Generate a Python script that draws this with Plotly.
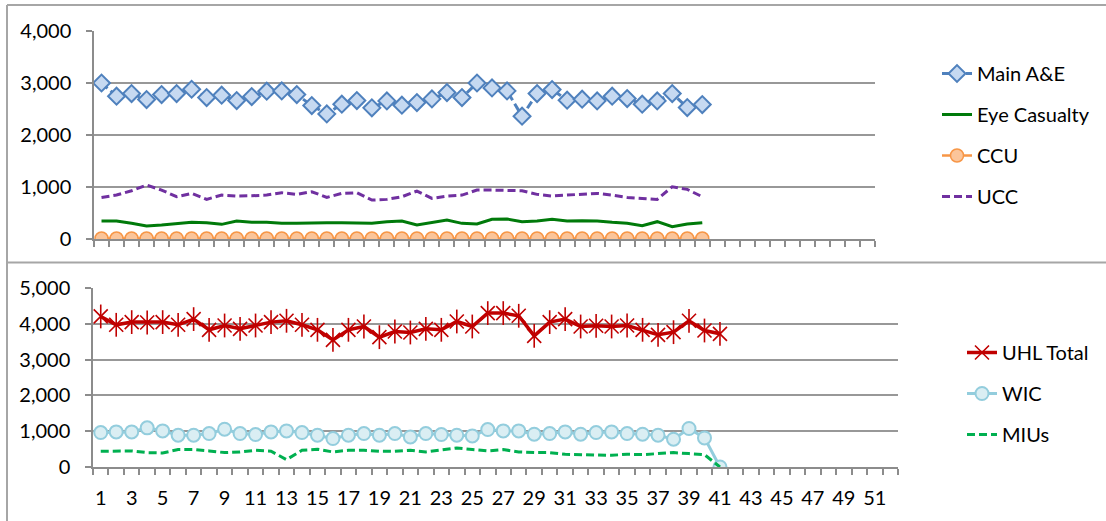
import plotly.graph_objects as go

weeks = [1, 2, 3, 4, 5, 6, 7, 8, 9, 10, 11, 12, 13, 14, 15, 16, 17, 18, 19, 20,
         21, 22, 23, 24, 25, 26, 27, 28, 29, 30, 31, 32, 33, 34, 35, 36, 37, 38, 39, 40, 41]

main_ae = [3000, 2746, 2797, 2682, 2778, 2797, 2880, 2720, 2765, 2662, 2739, 2842, 2848, 2778,
           2566, 2406, 2592, 2662, 2522, 2656, 2573, 2624, 2694, 2816, 2720, 3000, 2906, 2848,
           2362, 2797, 2874, 2669, 2688, 2656, 2746, 2701, 2592, 2656, 2797, 2528, 2586]
eye_casualty = [346, 346, 301, 250, 269, 301, 320, 314, 282, 346, 320, 320, 301, 301, 314, 314,
                314, 301, 301, 333, 346, 269, 314, 365, 301, 288, 378, 384, 333, 346, 378, 346,
                352, 346, 320, 301, 256, 333, 237, 288, 314]
ccu = [10, 10, 10, 10, 10, 10, 10, 10, 10, 10, 10, 10, 10, 10, 10, 10, 10, 10, 10, 10, 10,
       10, 10, 10, 10, 10, 10, 10, 10, 10, 10, 10, 10, 10, 10, 10, 10, 10, 10, 10, 10]
ucc = [800, 845, 928, 1037, 941, 813, 877, 762, 845, 826, 832, 845, 890, 858, 909, 800, 877,
       890, 749, 762, 813, 922, 781, 826, 845, 941, 941, 941, 928, 858, 826, 845, 864, 877,
       845, 800, 781, 762, 1005, 954, 813]

uhl_total = [4206, 3972, 4047, 4037, 4047, 3972, 4131, 3832, 3953, 3860, 3953, 4047, 4084, 3972,
             3832, 3551, 3832, 3925, 3626, 3785, 3757, 3860, 3832, 4065, 3925, 4299, 4299, 4224,
             3664, 4047, 4131, 3925, 3944, 3925, 3953, 3832, 3692, 3766, 4084, 3813, 3720]
wic = [963, 981, 981, 1093, 1009, 888, 888, 935, 1056, 935, 907, 981, 1009, 963, 888, 794, 888,
       935, 888, 935, 841, 935, 907, 888, 869, 1047, 1009, 1009, 916, 935, 981, 916, 963, 981,
       935, 916, 888, 776, 1075, 813, 0]
mius = [439, 449, 449, 402, 393, 486, 486, 449, 402, 421, 467, 439, 206, 467, 495, 421, 467, 467,
        439, 439, 467, 421, 467, 533, 490, 449, 486, 421, 402, 402, 355, 346, 346, 327, 355, 346,
        374, 402, 374, 346, 0]

x_tick_vals = [1, 3, 5, 7, 9, 11, 13, 15, 17, 19, 21, 23, 25, 27, 29, 31, 33, 35, 37, 39, 41,
               43, 45, 47, 49, 51]
x_tick_text = ["1", "3", "5", "7", "9", "11", "13", "15", "17", "19", "21", "23", "25", "27",
               "29", "31", "33", "35", "37", "39", "41", "43", "45", "47", "49", "51"]
n_categories = 52

W, H = 1106, 521
FONT = "Lato"
FS = 20
GRID = "#989898"
AXIS = "#8c8c8c"


def px_x(p):
    return p / W


def px_y(p):
    return 1 - p / H


fig = go.Figure()

# ---- top panel ----
fig.add_trace(go.Scatter(
    x=weeks, y=main_ae, name="Main A&E", mode="lines+markers", xaxis="x", yaxis="y",
    legend="legend", legendgroup="a",
    line=dict(color="#4F81BD", width=3, dash="8px,4px"),
    marker=dict(symbol="diamond", size=13, color="#C6D9F1", line=dict(color="#4F81BD", width=2))))
fig.add_trace(go.Scatter(
    x=weeks, y=eye_casualty, name="Eye Casualty", mode="lines", xaxis="x", yaxis="y",
    legend="legend", legendgroup="b",
    line=dict(color="#007A0A", width=3)))
fig.add_trace(go.Scatter(
    x=weeks, y=ccu, name="CCU", mode="lines+markers", xaxis="x", yaxis="y",
    legend="legend", legendgroup="c",
    line=dict(color="#F79646", width=2.5),
    marker=dict(symbol="circle", size=13, color="#FBC59A", line=dict(color="#F79646", width=1.5))))
fig.add_trace(go.Scatter(
    x=weeks, y=ucc, name="UCC", mode="lines", xaxis="x", yaxis="y",
    legend="legend", legendgroup="d",
    line=dict(color="#7030A0", width=3, dash="8px,4px")))

# ---- bottom panel ----
fig.add_trace(go.Scatter(
    x=weeks, y=uhl_total, name="UHL Total", mode="lines+markers", xaxis="x2", yaxis="y2",
    legend="legend2", legendgroup="e",
    line=dict(color="#C00000", width=3.5),
    marker=dict(symbol="x-thin-open", size=14, color="#C00000", line=dict(color="#C00000", width=1.6))))
fig.add_trace(go.Scatter(
    x=weeks, y=uhl_total, name="UHL Total", mode="markers", xaxis="x2", yaxis="y2",
    legend="legend2", legendgroup="e", showlegend=False,
    marker=dict(symbol="line-ns-open", size=17, color="#C00000", line=dict(color="#C00000", width=1.6))))
fig.add_trace(go.Scatter(
    x=weeks, y=wic, name="WIC", mode="lines+markers", xaxis="x2", yaxis="y2",
    legend="legend2", legendgroup="f",
    line=dict(color="#93CDDD", width=3),
    marker=dict(symbol="circle", size=13, color="#DAEEF3", line=dict(color="#93CDDD", width=2))))
fig.add_trace(go.Scatter(
    x=weeks, y=mius, name="MIUs", mode="lines", xaxis="x2", yaxis="y2",
    legend="legend2", legendgroup="g",
    line=dict(color="#00B050", width=3, dash="8px,4px")))

xcommon = dict(
    range=[0.5, n_categories + 0.5], showgrid=False, zeroline=False, automargin=False,
    showline=True, linecolor=AXIS, linewidth=1.5,
    tickvals=x_tick_vals, ticktext=x_tick_text, ticks="",
    tickfont=dict(family=FONT, size=FS, color="#000000"),
    minor=dict(ticks="outside", tick0=0.5, dtick=1, ticklen=6, tickcolor=AXIS, tickwidth=1.5,
               showgrid=False),
    fixedrange=True,
)
ycommon = dict(
    showgrid=True, gridcolor=GRID, gridwidth=1.5, zeroline=False, automargin=False,
    showline=True, linecolor=AXIS, linewidth=1.5,
    ticks="outside", ticklen=6, tickcolor=AXIS, tickwidth=1.5,
    tickformat=",d", dtick=1000,
    tickfont=dict(family=FONT, size=FS, color="#000000"),
    ticklabelstandoff=11,
    fixedrange=True,
)

fig.update_layout(
    width=W, height=H,
    margin=dict(l=0, r=0, t=0, b=0, pad=0, autoexpand=False),
    paper_bgcolor="white", plot_bgcolor="white",
    font=dict(family=FONT, size=FS, color="#000000"),
    xaxis=dict(xcommon, domain=[px_x(94), px_x(875)], anchor="y", showticklabels=False),
    yaxis=dict(ycommon, domain=[px_y(239), px_y(31)], range=[0, 4000], anchor="x"),
    xaxis2=dict(xcommon, domain=[px_x(93), px_x(898)], anchor="y2", ticklabelstandoff=12),
    yaxis2=dict(ycommon, domain=[px_y(467), px_y(288)], range=[0, 5000], anchor="x2"),
    legend=dict(x=px_x(937), y=px_y(54), xanchor="left", yanchor="top",
                font=dict(family=FONT, size=FS), tracegroupgap=12, bgcolor="rgba(0,0,0,0)"),
    legend2=dict(x=px_x(962), y=px_y(333), xanchor="left", yanchor="top",
                 font=dict(family=FONT, size=FS), tracegroupgap=12, bgcolor="rgba(0,0,0,0)"),
    shapes=[
        dict(type="line", xref="paper", yref="paper", x0=px_x(7), x1=1, y0=px_y(5), y1=px_y(5),
             line=dict(color="#a6a6a6", width=2)),
        dict(type="line", xref="paper", yref="paper", x0=px_x(7), x1=1, y0=px_y(262.5), y1=px_y(262.5),
             line=dict(color="#a6a6a6", width=2)),
        dict(type="line", xref="paper", yref="paper", x0=px_x(7), x1=px_x(7), y0=0, y1=px_y(5),
             line=dict(color="#a6a6a6", width=2)),
    ],
)

fig.write_html("out.html", config={"displayModeBar": False},
               post_script="document.body.style.margin='0';")
